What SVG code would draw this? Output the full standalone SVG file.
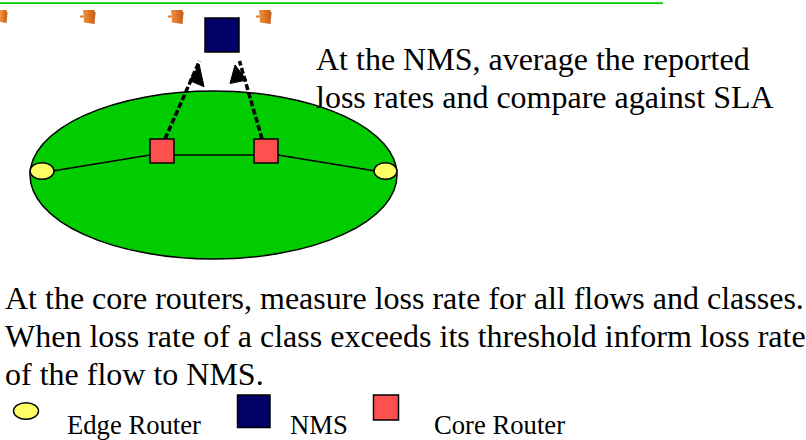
<svg xmlns="http://www.w3.org/2000/svg" width="806" height="440" viewBox="0 0 806 440">
  <style>
    .txt { font-family: "Liberation Serif", "Times New Roman", serif; fill: #000; }
    .big { font-size: 32px; }
    .small { font-size: 26.67px; }
    .edge { fill: #ffff66; stroke: #000; stroke-width: 1.5; }
    .core { fill: #ff5050; stroke: #000; stroke-width: 1.5; }
    .nms { fill: #000066; stroke: #000; stroke-width: 1.5; }
    .link { stroke: #000; stroke-width: 1.5; fill: none; }
    .report { stroke: #000; stroke-width: 3.5; fill: none; stroke-dasharray: 6 2.5; }
    .head { fill: #000; stroke: #000; stroke-width: 1; stroke-linejoin: round; }
    .ico { fill: url(#og); }
  </style>
  <defs>
    <linearGradient id="og" x1="0" y1="0" x2="1" y2="0">
      <stop offset="0" stop-color="#f79240"/>
      <stop offset="1" stop-color="#c25a18"/>
    </linearGradient>
  </defs>
  <rect width="806" height="440" fill="#ffffff"/>

  <!-- top decoration -->
  <line x1="0" y1="3.2" x2="663" y2="3.2" stroke="#00cc00" stroke-width="1.8"/>
  <g id="deco">
    <polygon class="ico" points="0,10 6,10 7.5,12.5 6.5,23 0,22"/>
    <g transform="translate(80,0)">
      <rect class="ico" x="0" y="15.5" width="3.5" height="2"/>
      <polygon class="ico" points="3,10 14,10 15.5,12.5 14.5,24 4,22.5"/>
    </g>
    <g transform="translate(168,0)">
      <rect class="ico" x="0" y="15.5" width="3.5" height="2"/>
      <polygon class="ico" points="3,10 14,10 15.5,12.5 14.5,24 4,22.5"/>
    </g>
    <g transform="translate(256,0)">
      <rect class="ico" x="0" y="15.5" width="3.5" height="2"/>
      <polygon class="ico" points="3,10 14,10 15.5,12.5 14.5,24 4,22.5"/>
    </g>
  </g>

  <!-- domain -->
  <g id="domain">
    <ellipse cx="213.5" cy="175" rx="183.5" ry="84" fill="#00cc00" stroke="#000" stroke-width="1.5"/>
  </g>

  <!-- connectors -->
  <g id="connectors">
    <line class="link" x1="54" y1="170.7" x2="150" y2="155"/>
    <line class="link" x1="174" y1="155" x2="254" y2="155"/>
    <line class="link" x1="278" y1="155" x2="374" y2="170.7"/>
    <line class="report" x1="165" y1="139" x2="199.5" y2="61"/>
    <polygon class="head" points="199.3,65 189.3,80.5 204,86.7"/>
    <line class="report" x1="262" y1="139" x2="239.5" y2="61"/>
    <polygon class="head" points="235,65 230,83.5 246.7,80"/>
  </g>

  <!-- nodes -->
  <g id="nms"><rect class="nms" x="205" y="18" width="34" height="34"/></g>
  <g id="core1"><rect class="core" x="150" y="139" width="24" height="24"/></g>
  <g id="core2"><rect class="core" x="254" y="139" width="24" height="24"/></g>
  <g id="edge1"><ellipse class="edge" cx="42" cy="171" rx="12" ry="8.3"/></g>
  <g id="edge2"><ellipse class="edge" cx="385.5" cy="171" rx="11.5" ry="8.3"/></g>

  <!-- texts -->
  <g id="nms-note">
    <text class="txt big" x="316" y="70">At the NMS, average the reported</text>
    <text class="txt big" x="316" y="108">loss rates and compare against SLA</text>
  </g>
  <g id="core-note">
    <text class="txt big" x="5" y="309">At the core routers, measure loss rate for all flows and classes.</text>
    <text class="txt big" x="5" y="347">When loss rate of a class exceeds its threshold inform loss rate</text>
    <text class="txt big" x="5" y="385">of the flow to NMS.</text>
  </g>

  <!-- legend -->
  <g id="legend-edge">
    <ellipse class="edge" cx="26" cy="411" rx="12.5" ry="8.3"/>
    <text class="txt small" x="67" y="434">Edge Router</text>
  </g>
  <g id="legend-nms">
    <rect class="nms" x="237.5" y="395" width="32.5" height="32.5"/>
    <text class="txt small" x="290" y="434">NMS</text>
  </g>
  <g id="legend-core">
    <rect class="core" x="373.5" y="395" width="25" height="25"/>
    <text class="txt small" x="434" y="434">Core Router</text>
  </g>
</svg>
